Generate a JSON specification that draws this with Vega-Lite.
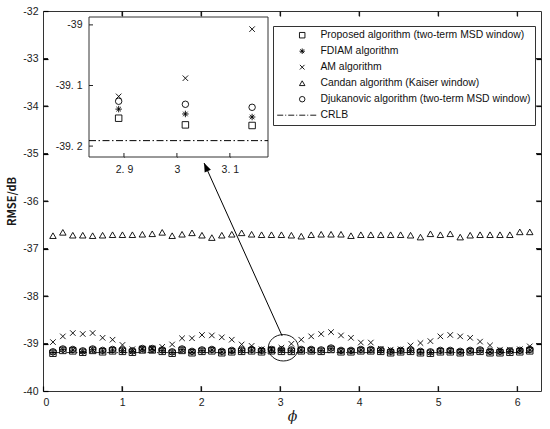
{
  "$schema": "https://vega.github.io/schema/vega-lite/v6.json",
  "width": 498,
  "height": 380,
  "autosize": "none",
  "padding": {"left": 43, "top": 11, "right": 9, "bottom": 38},
  "background": "white",
  "datasets": {
    "main": [
      {"phi": 0.126, "P": -39.205, "F": -39.19, "A": -38.97, "C": -36.73, "D": -39.175},
      {"phi": 0.251, "P": -39.145, "F": -39.13, "A": -38.85, "C": -36.66, "D": -39.115},
      {"phi": 0.377, "P": -39.155, "F": -39.14, "A": -38.78, "C": -36.72, "D": -39.125},
      {"phi": 0.503, "P": -39.185, "F": -39.17, "A": -38.80, "C": -36.72, "D": -39.155},
      {"phi": 0.628, "P": -39.145, "F": -39.13, "A": -38.78, "C": -36.73, "D": -39.115},
      {"phi": 0.754, "P": -39.175, "F": -39.16, "A": -38.88, "C": -36.72, "D": -39.145},
      {"phi": 0.880, "P": -39.155, "F": -39.14, "A": -38.92, "C": -36.71, "D": -39.125},
      {"phi": 1.005, "P": -39.165, "F": -39.15, "A": -39.03, "C": -36.71, "D": -39.135},
      {"phi": 1.131, "P": -39.185, "F": -39.17, "A": -39.12, "C": -36.71, "D": -39.155},
      {"phi": 1.257, "P": -39.135, "F": -39.12, "A": -39.11, "C": -36.70, "D": -39.105},
      {"phi": 1.382, "P": -39.135, "F": -39.12, "A": -39.10, "C": -36.69, "D": -39.105},
      {"phi": 1.508, "P": -39.165, "F": -39.15, "A": -39.07, "C": -36.66, "D": -39.135},
      {"phi": 1.634, "P": -39.205, "F": -39.19, "A": -39.02, "C": -36.73, "D": -39.175},
      {"phi": 1.759, "P": -39.145, "F": -39.13, "A": -38.89, "C": -36.70, "D": -39.115},
      {"phi": 1.885, "P": -39.195, "F": -39.18, "A": -38.89, "C": -36.67, "D": -39.165},
      {"phi": 2.011, "P": -39.165, "F": -39.15, "A": -38.82, "C": -36.72, "D": -39.135},
      {"phi": 2.136, "P": -39.155, "F": -39.14, "A": -38.83, "C": -36.77, "D": -39.125},
      {"phi": 2.262, "P": -39.195, "F": -39.18, "A": -38.87, "C": -36.72, "D": -39.165},
      {"phi": 2.388, "P": -39.175, "F": -39.16, "A": -38.92, "C": -36.70, "D": -39.145},
      {"phi": 2.513, "P": -39.165, "F": -39.15, "A": -39.02, "C": -36.67, "D": -39.135},
      {"phi": 2.639, "P": -39.155, "F": -39.14, "A": -39.05, "C": -36.70, "D": -39.125},
      {"phi": 2.765, "P": -39.175, "F": -39.16, "A": -39.12, "C": -36.71, "D": -39.145},
      {"phi": 2.890, "P": -39.154, "F": -39.139, "A": -39.118, "C": -36.71, "D": -39.126},
      {"phi": 3.016, "P": -39.165, "F": -39.147, "A": -39.088, "C": -36.71, "D": -39.131},
      {"phi": 3.142, "P": -39.166, "F": -39.152, "A": -39.007, "C": -36.72, "D": -39.136},
      {"phi": 3.267, "P": -39.155, "F": -39.14, "A": -38.92, "C": -36.74, "D": -39.125},
      {"phi": 3.393, "P": -39.155, "F": -39.14, "A": -38.85, "C": -36.71, "D": -39.125},
      {"phi": 3.519, "P": -39.165, "F": -39.15, "A": -38.80, "C": -36.70, "D": -39.135},
      {"phi": 3.644, "P": -39.125, "F": -39.11, "A": -38.76, "C": -36.70, "D": -39.095},
      {"phi": 3.770, "P": -39.175, "F": -39.16, "A": -38.83, "C": -36.70, "D": -39.145},
      {"phi": 3.896, "P": -39.175, "F": -39.16, "A": -38.88, "C": -36.73, "D": -39.145},
      {"phi": 4.021, "P": -39.155, "F": -39.14, "A": -38.98, "C": -36.71, "D": -39.125},
      {"phi": 4.147, "P": -39.155, "F": -39.14, "A": -38.98, "C": -36.71, "D": -39.125},
      {"phi": 4.273, "P": -39.165, "F": -39.15, "A": -39.11, "C": -36.71, "D": -39.135},
      {"phi": 4.398, "P": -39.195, "F": -39.18, "A": -39.13, "C": -36.71, "D": -39.165},
      {"phi": 4.524, "P": -39.175, "F": -39.16, "A": -39.12, "C": -36.71, "D": -39.145},
      {"phi": 4.650, "P": -39.165, "F": -39.15, "A": -39.04, "C": -36.72, "D": -39.135},
      {"phi": 4.775, "P": -39.195, "F": -39.18, "A": -38.99, "C": -36.76, "D": -39.165},
      {"phi": 4.901, "P": -39.205, "F": -39.19, "A": -38.95, "C": -36.69, "D": -39.175},
      {"phi": 5.027, "P": -39.175, "F": -39.16, "A": -38.85, "C": -36.71, "D": -39.145},
      {"phi": 5.152, "P": -39.175, "F": -39.16, "A": -38.82, "C": -36.69, "D": -39.145},
      {"phi": 5.278, "P": -39.195, "F": -39.18, "A": -38.85, "C": -36.76, "D": -39.165},
      {"phi": 5.404, "P": -39.175, "F": -39.16, "A": -38.88, "C": -36.72, "D": -39.145},
      {"phi": 5.529, "P": -39.165, "F": -39.15, "A": -38.96, "C": -36.71, "D": -39.135},
      {"phi": 5.655, "P": -39.195, "F": -39.18, "A": -39.04, "C": -36.71, "D": -39.165},
      {"phi": 5.781, "P": -39.195, "F": -39.18, "A": -39.13, "C": -36.71, "D": -39.165},
      {"phi": 5.906, "P": -39.185, "F": -39.17, "A": -39.13, "C": -36.71, "D": -39.155},
      {"phi": 6.032, "P": -39.175, "F": -39.16, "A": -39.12, "C": -36.65, "D": -39.145},
      {"phi": 6.158, "P": -39.155, "F": -39.14, "A": -39.06, "C": -36.65, "D": -39.125}
    ],
    "crlb": [{"a": 0.126, "b": 6.158, "v": -39.191}],
    "box": [{"a": 2.834, "b": 3.172, "lo": -39.218, "hi": -38.987, "crlb": -39.191}],
    "ring": [{"x": 3.04, "y": -39.09}],
    "arrow": [{"x": 2.038, "y": -35.2, "x2": 3.025, "y2": -38.84}],
    "xt": [{"v": 1}, {"v": 2}, {"v": 3}, {"v": 4}, {"v": 5}, {"v": 6}],
    "yt": [{"v": -39}, {"v": -38}, {"v": -37}, {"v": -36}, {"v": -35}, {"v": -34}, {"v": -33}],
    "ixt": [{"v": 2.9}, {"v": 3.0}, {"v": 3.1}],
    "iyt": [{"v": -39.0}, {"v": -39.1}, {"v": -39.2}]
  },
  "config": {
    "font": "Liberation Sans",
    "view": {"stroke": "#333", "strokeWidth": 1},
    "axis": {
      "grid": false,
      "domain": false,
      "ticks": true,
      "zindex": 1,
      "tickColor": "#000",
      "tickOpacity": 1,
      "tickWidth": 1.2,
      "labelFont": "Liberation Sans",
      "labelFontSize": 10.5,
      "labelColor": "#1a1a1a",
      "titleColor": "#1a1a1a"
    }
  },
  "layer": [
    {
      "layer": [
        {
          "data": {"name": "crlb"},
          "mark": {"type": "rule", "strokeDash": [7, 2.5, 1.5, 2.5], "color": "#333", "strokeWidth": 1},
          "encoding": {
            "x": {"field": "a", "type": "quantitative", "scale": {"domain": [0, 6.3], "nice": false, "zero": false},
                  "axis": {"orient": "top", "offset": -5, "tickSize": 5, "labels": false, "values": [1, 2, 3, 4, 5, 6], "title": null}},
            "x2": {"field": "b"},
            "y": {"field": "v", "type": "quantitative", "scale": {"domain": [-40, -32], "nice": false, "zero": false},
                  "axis": {"orient": "right", "offset": -5, "tickSize": 5, "labels": false, "values": [-39, -38, -37, -36, -35, -34, -33], "title": null}}
          }
        },
        {
          "data": {"name": "main"},
          "transform": [{"fold": ["P", "F", "A", "C", "D"], "as": ["alg", "rmse"]}],
          "mark": {"type": "point", "filled": false, "color": "#000", "size": 42, "strokeWidth": 0.9, "opacity": 1},
          "encoding": {
            "x": {"field": "phi", "type": "quantitative",
                  "axis": {"orient": "bottom", "offset": -5, "values": [0, 1, 2, 3, 4, 5, 6], "tickSize": 5, "labelPadding": 6, "title": "ϕ",
                           "titleFont": "DejaVu Serif", "titleFontStyle": "italic", "titleFontWeight": "normal", "titleFontSize": 14, "titlePadding": 2}},
            "y": {"field": "rmse", "type": "quantitative",
                  "axis": {"orient": "left", "offset": -5, "values": [-40, -39, -38, -37, -36, -35, -34, -33, -32], "tickSize": 5, "labelPadding": 5,
                           "labelExpr": "replace(datum.label, '−', '-')", "title": "RMSE/dB",
                           "titleFont": "Noto Sans CJK SC", "titleFontWeight": "bold", "titleFontSize": 11, "titlePadding": 5}},
            "shape": {
              "field": "alg", "type": "nominal",
              "scale": {
                "domain": ["P", "F", "A", "C", "D", "CRLB"],
                "range": [
                  "square",
                  "M-1,0L1,0M0,-1L0,1M-0.7,-0.7L0.7,0.7M-0.7,0.7L0.7,-0.7",
                  "M-0.85,-0.85L0.85,0.85M-0.85,0.85L0.85,-0.85",
                  "triangle-up",
                  "circle",
                  "M-9.13,0H-6.94M-6.2,0H-5.84M-5.1,0H-2.91M-2.18,0H-1.82M-1.08,0H1.11M1.84,0H2.2M2.94,0H5.13"
                ]
              },
              "legend": {
                "title": null,
                "orient": "none",
                "legendX": 230,
                "legendY": 15,
                "strokeColor": "#333",
                "fillColor": "#fff",
                "padding": 4,
                "labelFont": "Liberation Sans",
                "labelFontSize": 10.4,
                "labelColor": "#111",
                "labelLimit": 400,
                "symbolSize": 30,
                "symbolStrokeWidth": 0.9,
                "symbolStrokeColor": "#000",
                "symbolOffset": 20,
                "labelOffset": 13,
                "rowPadding": 5,
                "labelExpr": "datum.label == 'P' ? 'Proposed algorithm (two-term MSD window)' : datum.label == 'F' ? 'FDIAM algorithm' : datum.label == 'A' ? 'AM algorithm' : datum.label == 'C' ? 'Candan algorithm (Kaiser window)' : datum.label == 'D' ? 'Djukanovic algorithm (two-term MSD window)' : 'CRLB'"
              }
            }
          }
        },
        {
          "data": {"name": "xt"},
          "mark": {"type": "tick", "orient": "vertical", "size": 5, "thickness": 1, "color": "#222", "opacity": 1, "yOffset": -2.5},
          "encoding": {
            "x": {"field": "v", "type": "quantitative", "axis": null},
            "y": {"datum": -40, "type": "quantitative", "axis": null}
          }
        },
        {
          "data": {"name": "xt"},
          "mark": {"type": "tick", "orient": "vertical", "size": 5, "thickness": 1, "color": "#222", "opacity": 1, "yOffset": 2.5},
          "encoding": {
            "x": {"field": "v", "type": "quantitative", "axis": null},
            "y": {"datum": -32, "type": "quantitative", "axis": null}
          }
        },
        {
          "data": {"name": "yt"},
          "mark": {"type": "tick", "orient": "horizontal", "size": 5, "thickness": 1, "color": "#222", "opacity": 1, "xOffset": 2.5},
          "encoding": {
            "y": {"field": "v", "type": "quantitative", "axis": null},
            "x": {"datum": 0, "type": "quantitative", "axis": null}
          }
        },
        {
          "data": {"name": "yt"},
          "mark": {"type": "tick", "orient": "horizontal", "size": 5, "thickness": 1, "color": "#222", "opacity": 1, "xOffset": -2.5},
          "encoding": {
            "y": {"field": "v", "type": "quantitative", "axis": null},
            "x": {"datum": 6.3, "type": "quantitative", "axis": null}
          }
        },
        {
          "data": {"name": "ring"},
          "mark": {"type": "point", "filled": false, "color": "#000", "strokeWidth": 0.9, "opacity": 1, "size": 900,
                   "shape": "M-1,0A1,0.88 0 1,1 1,0A1,0.88 0 1,1 -1,0"},
          "encoding": {
            "x": {"field": "x", "type": "quantitative", "axis": null},
            "y": {"field": "y", "type": "quantitative", "axis": null}
          }
        },
        {
          "data": {"name": "arrow"},
          "mark": {"type": "rule", "color": "#000", "strokeWidth": 1},
          "encoding": {
            "x": {"field": "x", "type": "quantitative", "axis": null},
            "y": {"field": "y", "type": "quantitative", "axis": null},
            "x2": {"field": "x2"},
            "y2": {"field": "y2"}
          }
        },
        {
          "data": {"name": "arrow"},
          "mark": {"type": "point", "filled": true, "color": "#000", "opacity": 1, "size": 324, "angle": 336,
                   "shape": "M0,0L-0.38,1L0.38,1Z"},
          "encoding": {
            "x": {"field": "x", "type": "quantitative", "axis": null},
            "y": {"field": "y", "type": "quantitative", "axis": null}
          }
        }
      ],
      "resolve": {"axis": {"x": "independent", "y": "independent"}}
    },
    {
      "layer": [
        {
          "data": {"name": "box"},
          "mark": {"type": "rect", "fill": "#fff", "stroke": "#333", "strokeWidth": 1},
          "encoding": {
            "x": {"field": "a", "type": "quantitative",
                  "scale": {"domain": [2.834, 3.172], "range": [46, 225], "nice": false, "zero": false},
                  "axis": {"orient": "bottom", "offset": -238, "tickSize": 4, "values": [2.9, 3, 3.1], "format": ".1~f",
                           "labelExpr": "replace(datum.label, '.', '. ')", "labelPadding": 7, "title": null}},
            "x2": {"field": "b"},
            "y": {"field": "lo", "type": "quantitative",
                  "scale": {"domain": [-39.218, -38.987], "range": [146, 6], "nice": false, "zero": false},
                  "axis": {"orient": "left", "offset": -50, "tickSize": 4, "values": [-39, -39.1, -39.2], "format": ".1~f",
                           "labelExpr": "replace(replace(datum.label, '−', '-'), '.', '. ')", "labelPadding": 7, "title": null}},
            "y2": {"field": "hi"}
          }
        },
        {
          "data": {"name": "box"},
          "mark": {"type": "rule", "strokeDash": [7, 2.5, 1.5, 2.5], "color": "#000", "strokeWidth": 1},
          "encoding": {
            "x": {"field": "a", "type": "quantitative"},
            "x2": {"field": "b"},
            "y": {"field": "crlb", "type": "quantitative"}
          }
        },
        {
          "data": {"name": "ixt"},
          "mark": {"type": "tick", "orient": "vertical", "size": 4, "thickness": 1, "color": "#222", "opacity": 1, "yOffset": -2},
          "encoding": {
            "x": {"field": "v", "type": "quantitative"},
            "y": {"datum": -39.218, "type": "quantitative"}
          }
        },
        {
          "data": {"name": "iyt"},
          "mark": {"type": "tick", "orient": "horizontal", "size": 4, "thickness": 1, "color": "#222", "opacity": 1, "xOffset": 2},
          "encoding": {
            "y": {"field": "v", "type": "quantitative"},
            "x": {"datum": 2.834, "type": "quantitative"}
          }
        },
        {
          "data": {"name": "main"},
          "transform": [
            {"filter": "datum.phi > 2.834 && datum.phi < 3.172"},
            {"fold": ["P", "F", "A", "D"], "as": ["alg", "rmse"]}
          ],
          "mark": {"type": "point", "filled": false, "color": "#000", "size": 42, "strokeWidth": 0.9, "opacity": 1},
          "encoding": {
            "x": {"field": "phi", "type": "quantitative"},
            "y": {"field": "rmse", "type": "quantitative"},
            "shape": {
              "field": "alg", "type": "nominal",
              "scale": {
                "domain": ["P", "F", "A", "D"],
                "range": [
                  "square",
                  "M-1,0L1,0M0,-1L0,1M-0.7,-0.7L0.7,0.7M-0.7,0.7L0.7,-0.7",
                  "M-0.85,-0.85L0.85,0.85M-0.85,0.85L0.85,-0.85",
                  "circle"
                ]
              },
              "legend": null
            }
          }
        }
      ]
    }
  ],
  "resolve": {"scale": {"x": "independent", "y": "independent", "shape": "independent"}}
}
